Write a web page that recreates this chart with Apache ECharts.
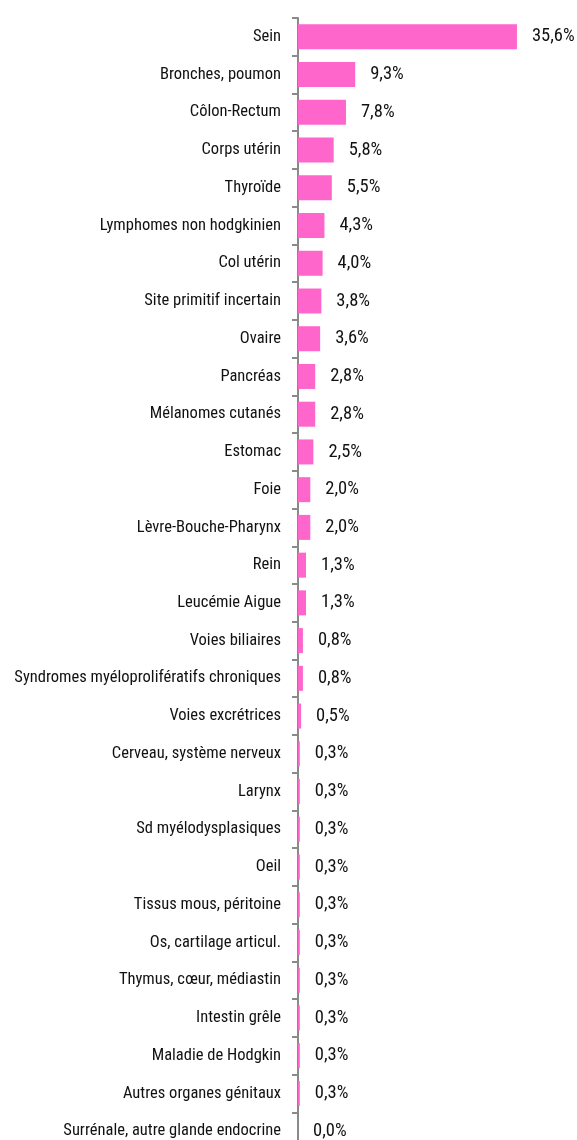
<!DOCTYPE html>
<html>
<head>
<meta charset="utf-8">
<script src="https://cdn.jsdelivr.net/npm/echarts@6/dist/echarts.min.js"></script>
<style>
  html, body { margin: 0; padding: 0; background: #fff; }
  #chart { width: 577px; height: 1140px; }
</style>
</head>
<body>
<div id="chart"></div>
<script>
// catégories, de haut en bas
const categories = [
  'Sein', 'Bronches, poumon', 'Côlon-Rectum', 'Corps utérin', 'Thyroïde',
  'Lymphomes non hodgkinien', 'Col utérin', 'Site primitif incertain', 'Ovaire',
  'Pancréas', 'Mélanomes cutanés', 'Estomac', 'Foie', 'Lèvre-Bouche-Pharynx',
  'Rein', 'Leucémie Aigue', 'Voies biliaires', 'Syndromes myéloprolifératifs chroniques',
  'Voies excrétrices', 'Cerveau, système nerveux', 'Larynx', 'Sd myélodysplasiques',
  'Oeil', 'Tissus mous, péritoine', 'Os, cartilage articul.', 'Thymus, cœur, médiastin',
  'Intestin grêle', 'Maladie de Hodgkin', 'Autres organes génitaux',
  'Surrénale, autre glande endocrine'
]

// pourcentages
const values = [
  35.6, 9.3, 7.8, 5.8, 5.5, 4.3, 4.0, 3.8, 3.6, 2.8, 2.8, 2.5, 2.0, 2.0,
  1.3, 1.3, 0.8, 0.8, 0.5, 0.3, 0.3, 0.3, 0.3, 0.3, 0.3, 0.3, 0.3, 0.3, 0.3, 0.0
]

const font = '"Roboto Condensed", "DejaVu Sans Condensed", sans-serif'

const myChart = echarts.init(document.getElementById('chart'))

myChart.setOption({
  animation: false,
  grid: {
    left: 298,
    width: 246,
    top: 18,
    bottom: -10,
    containLabel: false,
    outerBoundsMode: 'none'
  },
  xAxis: {
    type: 'value',
    min: 0,
    max: 40,
    show: false
  },
  yAxis: {
    type: 'category',
    inverse: true,
    data: categories,
    axisLine: {
      show: true,
      lineStyle: { color: '#8a8a8a', width: 2 }
    },
    axisTick: {
      show: true,
      length: 6,
      lineStyle: { color: '#8a8a8a', width: 2 }
    },
    axisLabel: {
      margin: 17,
      color: '#111',
      fontSize: 16.5,
      fontFamily: font
    }
  },
  series: [
    {
      type: 'bar',
      data: values,
      barWidth: 25,
      itemStyle: { color: '#ff66cc' },
      label: {
        show: true,
        position: 'right',
        distance: 15,
        color: '#111',
        fontSize: 18.5,
        fontFamily: font,
        formatter: (p) => p.value.toFixed(1).replace('.', ',') + '%'
      }
    }
  ]
})
</script>
</body>
</html>
